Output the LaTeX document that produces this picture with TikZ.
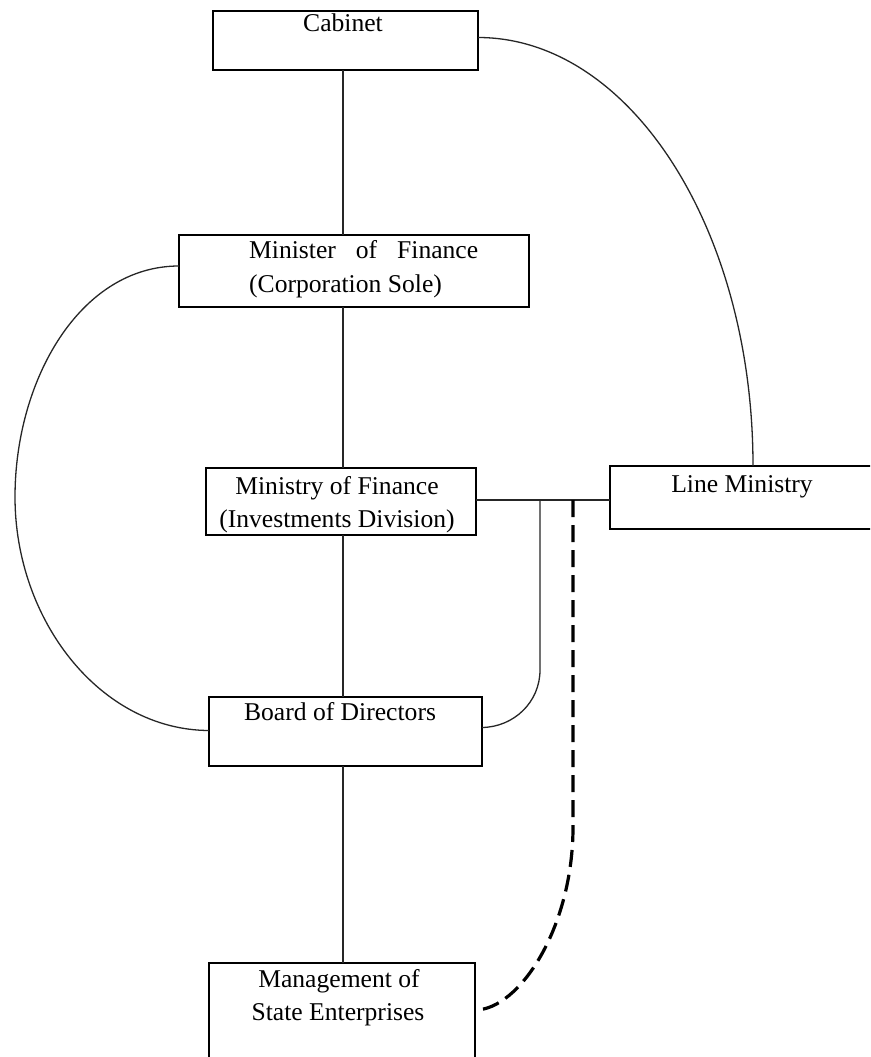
\documentclass[tikz,border=0pt]{standalone}
\usepackage{fontspec}
\setmainfont{Liberation Serif}
\begin{document}
\begin{tikzpicture}[x=1pt,y=-1pt,
  box/.style={draw=black, line width=1.6pt, rectangle, inner sep=0pt, outer sep=0pt},
  lbl/.style={inner sep=0pt, font=\fontsize{25.6}{33}\selectfont},
  conn/.style={draw=black!85, line width=1.3pt},
  dconn/.style={draw=black, line width=3.2pt, dash pattern=on 17pt off 8pt}]
\clip (0,0) rectangle (870,1057);
% boxes
\node[box, minimum width=265pt, minimum height=59pt] (cab) at (345.5,40.5) {};
\node[box, minimum width=350pt, minimum height=72pt] (min) at (354,271) {};
\node[box, minimum width=270pt, minimum height=67pt] (mof) at (341,501.5) {};
\node[box, minimum width=270pt, minimum height=63pt] (lm) at (745,497.5) {};
\node[box, minimum width=273pt, minimum height=69pt] (bod) at (345.5,731.5) {};
\node[box, minimum width=266pt, minimum height=102pt] (mse) at (342,1014) {};
% labels
\node[lbl, anchor=base] (tcab) at (343,32) {Cabinet};
\node[lbl, anchor=base west] (tmin1) at (249,258) {\hbox to 229pt{Minister\hfill of\hfill Finance}};
\node[lbl, anchor=base west] (tmin2) at (249,292) {(Corporation Sole)};
\node[lbl, anchor=base] (tmof1) at (337,494) {Ministry of Finance};
\node[lbl, anchor=base] (tmof2) at (337,527) {(Investments Division)};
\node[lbl, anchor=base] (tlm) at (742,492) {Line Ministry};
\node[lbl, anchor=base] (tbod) at (340,720) {Board of Directors};
\node[lbl, anchor=base] (tmse1) at (339,987) {Management of};
\node[lbl, anchor=base] (tmse2) at (338,1020) {State Enterprises};
% reference coordinates
\coordinate (spine) at (343,0);
\coordinate (lmx) at (753,0);
\coordinate (j1) at (540,0);
\coordinate (j2) at (573,0);
% vertical chain
\draw[conn] (cab.south -| spine) -- (min.north -| spine);
\draw[conn] (min.south -| spine) -- (mof.north -| spine);
\draw[conn] (mof.south -| spine) -- (bod.north -| spine);
\draw[conn] (bod.south -| spine) -- (mse.north -| spine);
% cabinet to line ministry
\draw[conn] ([yshift=3pt]cab.east) .. controls (630,37.5) and (753,229) .. (lm.north -| lmx);
% minister to board (left arc)
\draw[conn] ([yshift=5pt]min.west) .. controls (80,266) and (15,380) .. (15,497)
  .. controls (15,620) and (100,730) .. ([yshift=1pt]bod.west);
% ministry of finance to line ministry
\draw[conn] ([yshift=1.5pt]mof.east) -- ([yshift=1.5pt]mof.east -| lm.west);
% junction down to board
\draw[conn] ([yshift=1.5pt]mof.east -| j1) -- (540,670) .. controls (540,702) and (514,727) .. ([yshift=4pt]bod.east);
% dashed to management
\draw[dconn] ([yshift=1.5pt]mof.east -| j2) -- (573,827) .. controls (573,928) and (519,1010) .. ([yshift=4pt]mse.east);
\end{tikzpicture}
\end{document}
